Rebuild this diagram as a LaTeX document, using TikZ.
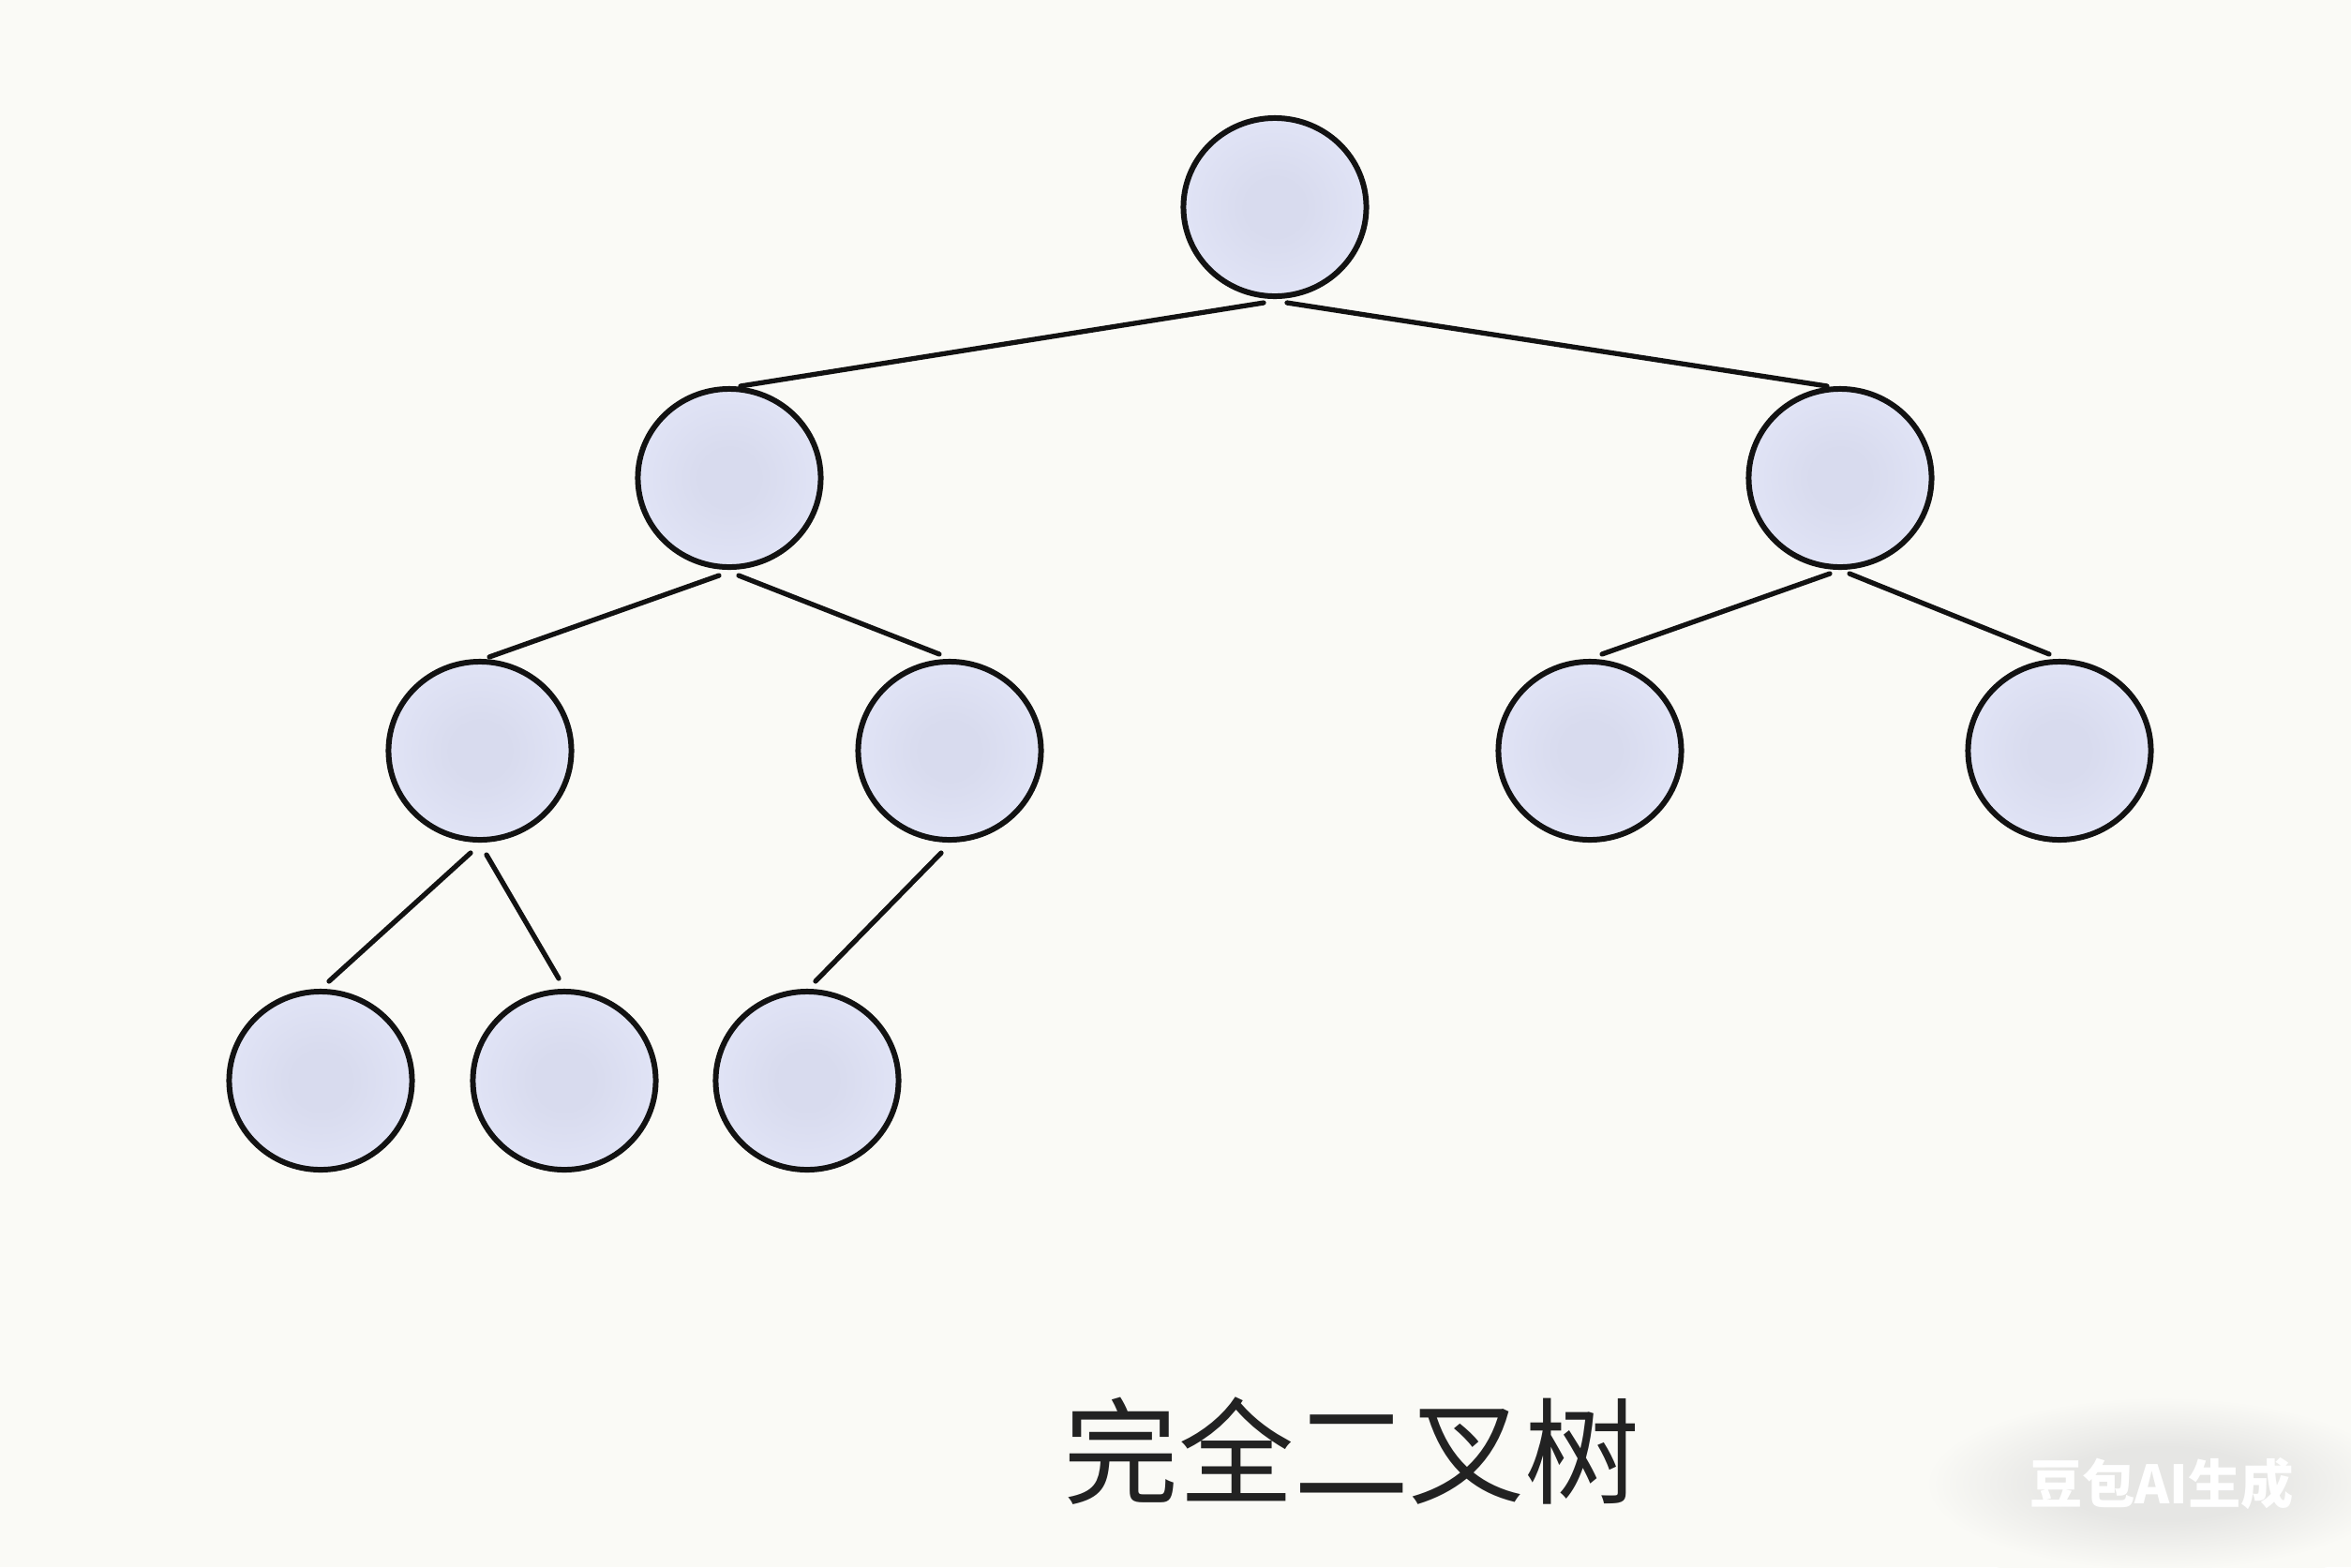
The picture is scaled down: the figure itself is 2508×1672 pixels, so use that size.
\documentclass[tikz,border=0pt]{standalone}
\usepackage{fontspec}
\newfontfamily\cjk{Noto Sans CJK SC}
\usetikzlibrary{calc,shapes.geometric}
\definecolor{bg}{RGB}{250,250,246}
\definecolor{nin}{RGB}{216,219,238}
\definecolor{nout}{RGB}{226,229,247}
\definecolor{ink}{RGB}{18,18,18}
\definecolor{txt}{RGB}{34,34,34}
\definecolor{glowc}{RGB}{230,230,228}
\pgfdeclareradialshading{nodeshade}{\pgfpoint{0bp}{0bp}}{color(0bp)=(nin); color(8bp)=(nin); color(28bp)=(nout); color(50bp)=(nout)}
\pgfdeclareradialshading{glowshade}{\pgfpoint{0bp}{0bp}}{color(0bp)=(glowc); color(9bp)=(glowc); color(21bp)=(bg); color(50bp)=(bg)}
\tikzset{
  tnode/.style={ellipse, draw=ink, line width=1.7pt, shading=nodeshade, minimum width=1.95cm, minimum height=1.9cm, inner sep=0pt},
  edge/.style={draw=ink, line width=1.5pt, line cap=round},
}
\begin{document}
\begin{tikzpicture}[x=0.01cm, y=-0.01cm]
\fill[bg] (0,0) rectangle (2508,1672);
\useasboundingbox (0,0) rectangle (2508,1672);
% nodes
\node[tnode] (r)  at (1360,221) {};
\node[tnode] (a)  at (778,510) {};
\node[tnode] (b)  at (1963,510) {};
\node[tnode] (aa) at (512,801) {};
\node[tnode] (ab) at (1013,801) {};
\node[tnode] (ba) at (1696,801) {};
\node[tnode] (bb) at (2197,801) {};
\node[tnode] (aaa) at (342,1153) {};
\node[tnode] (aab) at (602,1153) {};
\node[tnode] (aba) at (861,1153) {};
% edges
\draw[edge] ($(r.south)+(-12,4)$) -- ($(a.north)+(12,0)$);
\draw[edge] ($(r.south)+(13,4)$) -- ($(b.north)+(-14,0)$);
\draw[edge] ($(a.south)+(-11,6)$) -- ($(aa.north)+(10,-2)$);
\draw[edge] ($(a.south)+(10,6)$) -- ($(ab.north)+(-11,-5)$);
\draw[edge] ($(b.south)+(-11,4)$) -- ($(ba.north)+(13,-5)$);
\draw[edge] ($(b.south)+(10,4)$) -- ($(bb.north)+(-11,-5)$);
\draw[edge] ($(aa.south)+(-10,11)$) -- ($(aaa.north)+(9,-8)$);
\draw[edge] ($(aa.south)+(7,13)$) -- ($(aab.north)+(-6,-11)$);
\draw[edge] ($(ab.south)+(-9,11)$) -- ($(aba.north)+(9,-8)$);
% caption
\node[text=txt, font=\cjk\fontsize{35}{40}\selectfont] (cap) at (1442,1548) {完全二叉树};
% watermark with soft glow
\shade[shading=glowshade] (2306,1583) ellipse [x radius=300, y radius=110];
\node[text=white, font=\cjk\bfseries\fontsize{16}{18}\selectfont] (wm) at (2306,1583) {豆包AI生成};
\end{tikzpicture}
\end{document}
